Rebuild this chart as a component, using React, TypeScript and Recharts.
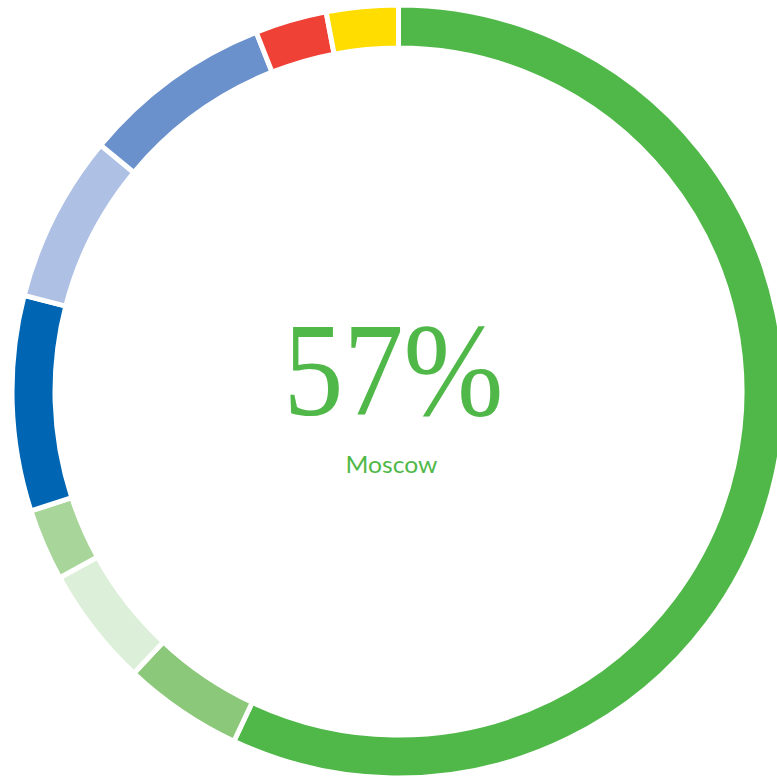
import { Pie, PieChart } from 'recharts';

// clockwise from 12 o'clock
const regions = [
  'Moscow',
  'Region B',
  'Region C',
  'Region D',
  'Region E',
  'Region F',
  'Region G',
  'Region H',
  'Region I',
];
const shares = [57, 5, 5, 3, 9, 7, 8, 3, 3];
const colors = [
  '#50b848',
  '#8bc87a',
  '#dcefd8',
  '#a8d59a',
  '#0066b3',
  '#aec1e5',
  '#6a91cb',
  '#ef4136',
  '#ffdd00',
];
const highlightLabel = 'Moscow';
const highlightValue = '57%';

const GREEN = '#50b848';
const CX = 398.5;
const CY = 391.5;

export default function App() {
  const data = regions.map((name, i) => ({
    name,
    value: shares[i],
    fill: colors[i],
  }));

  return (
    <div style={{ position: 'absolute', left: 0, top: 0, width: 777, height: 776 }}>
      <PieChart width={777} height={776} margin={{ top: 0, right: 0, bottom: 0, left: 0 }}>
        <Pie
          data={data}
          dataKey="value"
          nameKey="name"
          cx={CX}
          cy={CY}
          innerRadius={343.5}
          outerRadius={386.5}
          startAngle={90}
          endAngle={-270}
          stroke="#ffffff"
          strokeWidth={5}
          isAnimationActive={false}
        />
      </PieChart>
      <svg
        width={777}
        height={776}
        style={{ position: 'absolute', left: 0, top: 0, pointerEvents: 'none' }}
      >
        <text
          x={CX - 5}
          y={CY + 23.5}
          textAnchor="middle"
          fill={GREEN}
          fontFamily="'Liberation Serif', serif"
          fontSize={134}
          textLength={220}
          lengthAdjust="spacingAndGlyphs"
        >
          {highlightValue}
        </text>
        <text
          x={CX - 7}
          y={CY + 81.5}
          textAnchor="middle"
          fill={GREEN}
          fontFamily="Lato, sans-serif"
          fontSize={24}
          textLength={92}
          lengthAdjust="spacingAndGlyphs"
        >
          {highlightLabel}
        </text>
      </svg>
    </div>
  );
}
